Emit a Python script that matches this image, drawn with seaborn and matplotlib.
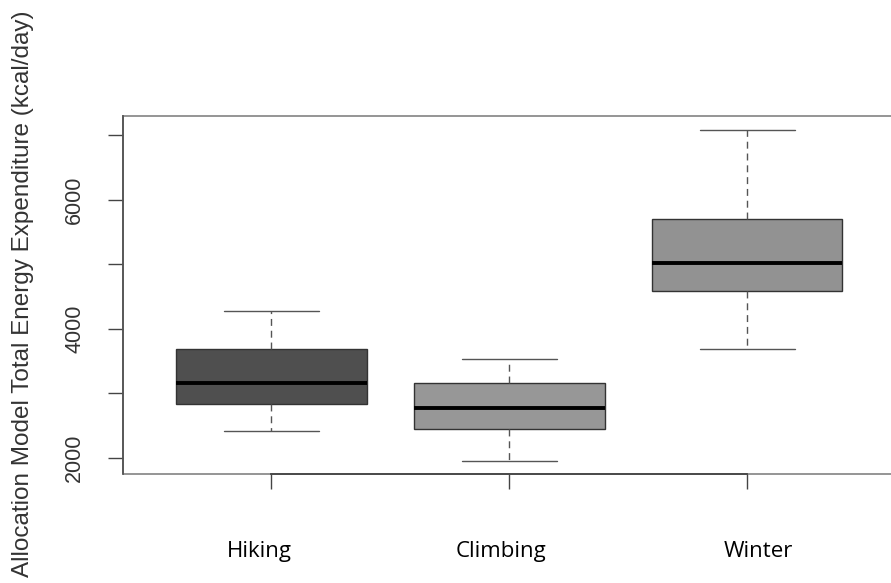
import numpy as np
import pandas as pd
import matplotlib
matplotlib.use("Agg")
import matplotlib.pyplot as plt
import matplotlib.transforms as mtransforms
import seaborn as sns
from matplotlib.patches import Rectangle

# ---- data ----
categories = ["Hiking", "Climbing", "Winter"]
hiking_vals = [2425, 2840, 3170, 3685, 4285]     # min, Q1, median, Q3, max
climbing_vals = [1955, 2450, 2780, 3165, 3535]
winter_vals = [3685, 4595, 5020, 5700, 7080]
fill_colors = ["#4f4f4f", "#979797", "#929292"]
y_ticks = [2000, 3000, 4000, 5000, 6000, 7000]
y_tick_labels = ["2000", "", "4000", "", "6000", ""]
y_label = "Allocation Model Total Energy Expenditure (kcal/day)"
x_label_shift_pt = [-8.6, -5.8, 7.9]   # pasted category labels sit slightly off their ticks

df = pd.DataFrame({
    "activity": np.repeat(categories, 5),
    "tee": hiking_vals + climbing_vals + winter_vals,
})

sns.set_theme(style="white")
plt.rcParams["font.family"] = ["Liberation Sans", "DejaVu Sans"]

W, H = 891, 583
fig = plt.figure(figsize=(W / 100, H / 100), dpi=100)
left_px, right_px, top_px, bottom_px = 122.7, 896, 116, 474
ax = fig.add_axes([left_px / W, 1 - bottom_px / H,
                   (right_px - left_px) / W, (bottom_px - top_px) / H])

sns.boxplot(
    data=df, x="activity", y="tee", hue="activity",
    order=categories, hue_order=categories,
    palette=dict(zip(categories, fill_colors)),
    width=0.8, whis=np.inf, showfliers=False, legend=False,
    linecolor="#333333", linewidth=1.0,
    whiskerprops=dict(linestyle=(0, (5, 3.5)), color="#555555", linewidth=1.0),
    capprops=dict(color="#555555", linewidth=1.0),
    medianprops=dict(color="black", linewidth=2.8),
    capwidths=0.4,
    ax=ax,
)

ax.set_xlim(-0.625, 2.625)
ax.set_ylim(1752, 7302)

# frame (light gray box) + darker axis lines like base R
for s in ["top", "right"]:
    ax.spines[s].set_visible(False)
ax.add_patch(Rectangle((0, 0), 1, 1, transform=ax.transAxes, fill=False,
                       edgecolor="#8c8c8c", linewidth=1.3, zorder=0.5,
                       clip_on=False))
ax.spines["bottom"].set_bounds(0, 2)
ax.spines["bottom"].set_color("#444444")
ax.spines["bottom"].set_linewidth(1.3)
ax.spines["left"].set_color("#555555")
ax.spines["left"].set_linewidth(1.3)

ax.set_yticks(y_ticks)
ax.set_yticklabels(y_tick_labels, rotation=90, va="center",
                   fontsize=15.5, color="#333333")
ax.set_xticks(range(len(categories)))
ax.set_xticklabels(categories, fontsize=16, color="black",
                   fontfamily=["Open Sans", "DejaVu Sans"])
ax.tick_params(axis="both", direction="out", length=11, width=1.0,
               color="#444444", bottom=True, left=True)
ax.tick_params(axis="y", pad=16)
ax.tick_params(axis="x", pad=37)
for lab, dx in zip(ax.get_xticklabels(), x_label_shift_pt):
    lab.set_transform(lab.get_transform() +
                      mtransforms.ScaledTranslation(dx / 72, 0, fig.dpi_scale_trans))
ax.set_xlabel("")
ax.set_ylabel("")

fig.text(23.5 / W, 1 - 294 / H, y_label, rotation=90, ha="center", va="center",
         fontsize=17.5, color="#333333")

fig.savefig("out.png", dpi=100)
